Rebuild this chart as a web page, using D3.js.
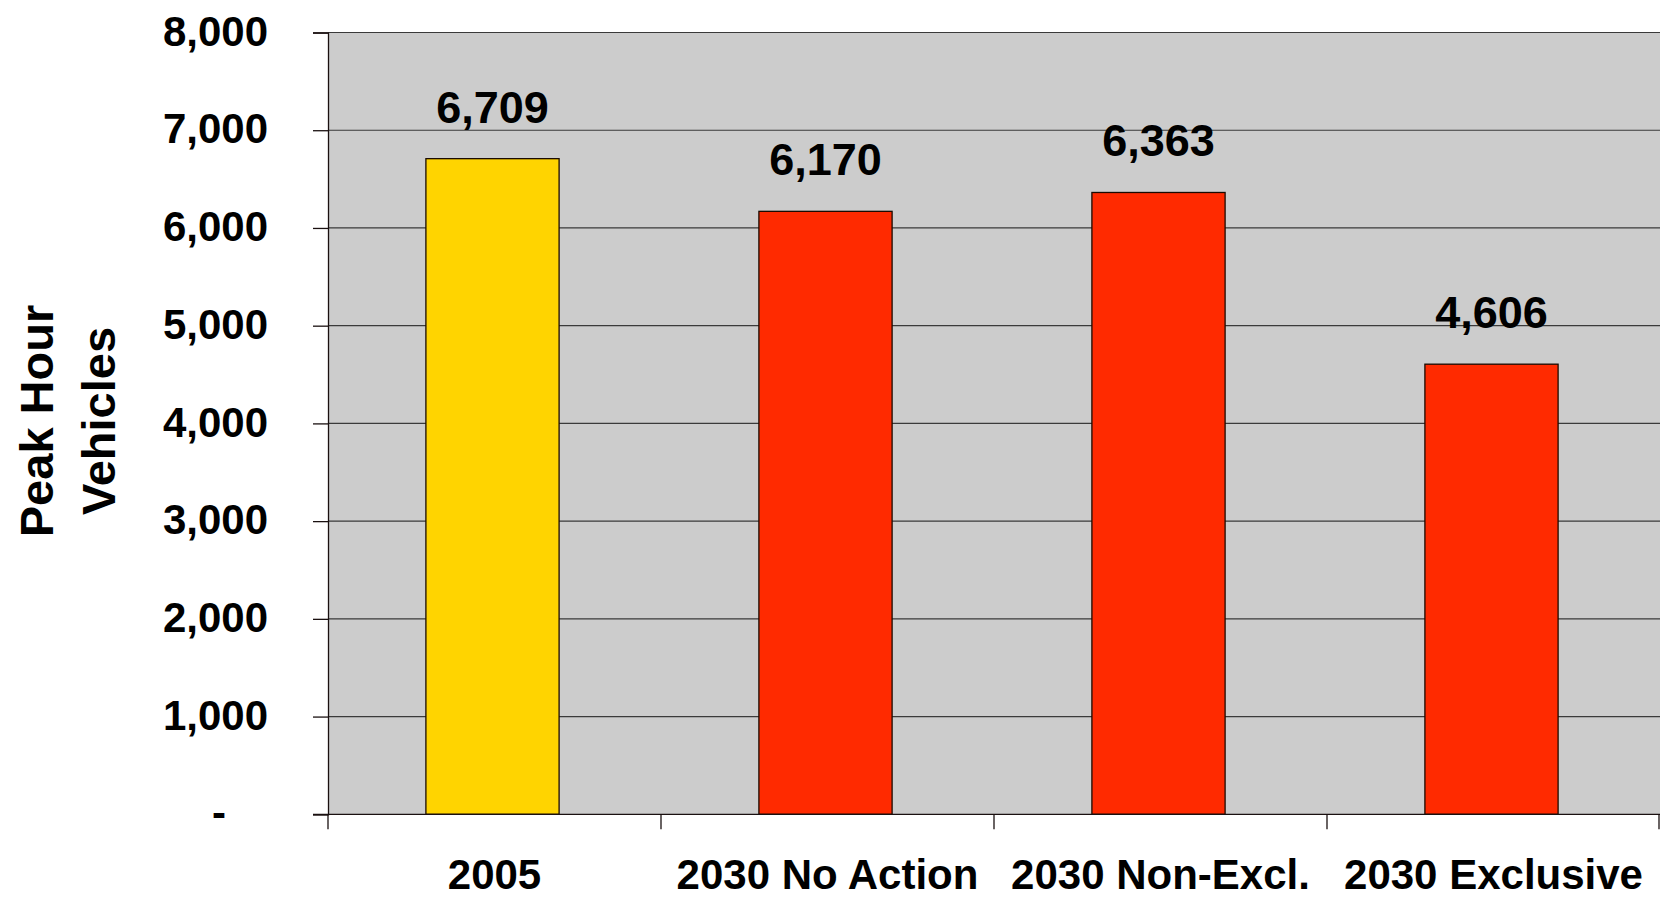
<!DOCTYPE html>
<html>
<head>
<meta charset="utf-8">
<script src="https://cdn.jsdelivr.net/npm/d3@7"></script>
<style>
  html, body { margin: 0; padding: 0; background: #ffffff; }
  svg { display: block; font-family: "Liberation Sans", Arial, sans-serif; font-weight: bold; }
</style>
</head>
<body>
<svg id="chart" width="1661" height="899"></svg>
<script>
const categories = ["2005", "2030 No Action", "2030 Non-Excl.", "2030 Exclusive"];
const values = [6709, 6170, 6363, 4606];
const barColors = ["#FFD400", "#FF2A00", "#FF2A00", "#FF2A00"];
const yTickValues = [0, 1000, 2000, 3000, 4000, 5000, 6000, 7000, 8000];
const yTickLabels = ["-", "1,000", "2,000", "3,000", "4,000", "5,000", "6,000", "7,000", "8,000"];
const yTitleLines = ["Peak Hour", "Vehicles"];

const svg = d3.select("#chart");
const plot = { left: 328, right: 1660, top: 32.5, bottom: 814.3 };

const y = d3.scaleLinear().domain([0, 8000]).range([plot.bottom, plot.top]);
const xCat = d3.scaleBand().domain(categories).range([plot.left, plot.right]).padding(0);
const xBar = d3.scaleBand().domain(categories).range([plot.left, plot.right])
  .paddingInner(0.6).paddingOuter(0.3);

// plot background
svg.append("rect")
  .attr("x", plot.left).attr("y", plot.top)
  .attr("width", plot.right - plot.left).attr("height", plot.bottom - plot.top)
  .attr("fill", "#CCCCCC");

// gridlines
svg.append("g")
  .selectAll("line")
  .data(yTickValues.filter(v => v > 0))
  .join("line")
  .attr("x1", plot.left).attr("x2", plot.right)
  .attr("y1", d => y(d)).attr("y2", d => y(d))
  .attr("stroke", "#3a3a3a").attr("stroke-width", 1.2);

// bars
svg.append("g")
  .selectAll("rect")
  .data(categories)
  .join("rect")
  .attr("x", d => xBar(d) - 2)
  .attr("y", (d, i) => y(values[i]))
  .attr("width", xBar.bandwidth())
  .attr("height", (d, i) => y(0) - y(values[i]))
  .attr("fill", (d, i) => barColors[i])
  .attr("stroke", "#1a0a00").attr("stroke-width", 1.3);

// data labels
svg.append("g")
  .selectAll("text")
  .data(categories)
  .join("text")
  .attr("x", d => xBar(d) - 2 + xBar.bandwidth() / 2)
  .attr("y", (d, i) => y(values[i]) - 36)
  .attr("text-anchor", "middle")
  .attr("font-size", 45)
  .attr("fill", "#000")
  .text((d, i) => d3.format(",")(values[i]));

// y axis
const yAxis = d3.axisLeft(y)
  .tickValues(yTickValues)
  .tickSize(15)
  .tickPadding(45)
  .tickFormat((d, i) => yTickLabels[i]);
const gy = svg.append("g").attr("transform", `translate(${plot.left},0)`).call(yAxis);
gy.select(".domain").attr("stroke", "#1a1010").attr("stroke-width", 1.3);
gy.selectAll(".tick line").attr("stroke", "#1a1010").attr("stroke-width", 1.3);
gy.selectAll(".tick text")
  .attr("font-size", 42)
  .attr("font-family", "Liberation Sans, Arial, sans-serif")
  .attr("font-weight", "bold")
  .attr("fill", "#000")
  .attr("dy", "0.3em")
  .attr("dx", d => d === 0 ? -42 : 0);

// x axis (category boundaries ticks)
const xBoundaries = categories.map(c => xCat(c)).concat([plot.right - 1]);
svg.append("line")
  .attr("x1", plot.left - 15).attr("x2", plot.right)
  .attr("y1", y(0)).attr("y2", y(0))
  .attr("stroke", "#1a1010").attr("stroke-width", 1.3);
svg.append("g")
  .selectAll("line")
  .data(xBoundaries)
  .join("line")
  .attr("x1", d => d).attr("x2", d => d)
  .attr("y1", y(0)).attr("y2", y(0) + 15)
  .attr("stroke", "#1a1010").attr("stroke-width", 1.3);

// category labels
svg.append("g")
  .selectAll("text")
  .data(categories)
  .join("text")
  .attr("x", d => xCat(d) + xCat.bandwidth() / 2)
  .attr("y", 889)
  .attr("text-anchor", "middle")
  .attr("font-size", 42)
  .attr("fill", "#000")
  .text(d => d);

// y axis title
const title = svg.append("text")
  .attr("transform", "translate(53,421) rotate(-90)")
  .attr("text-anchor", "middle")
  .attr("font-size", 47)
  .attr("fill", "#000");
title.selectAll("tspan")
  .data(yTitleLines)
  .join("tspan")
  .attr("x", 0)
  .attr("dy", (d, i) => i === 0 ? 0 : 62)
  .text(d => d);
</script>
</body>
</html>
